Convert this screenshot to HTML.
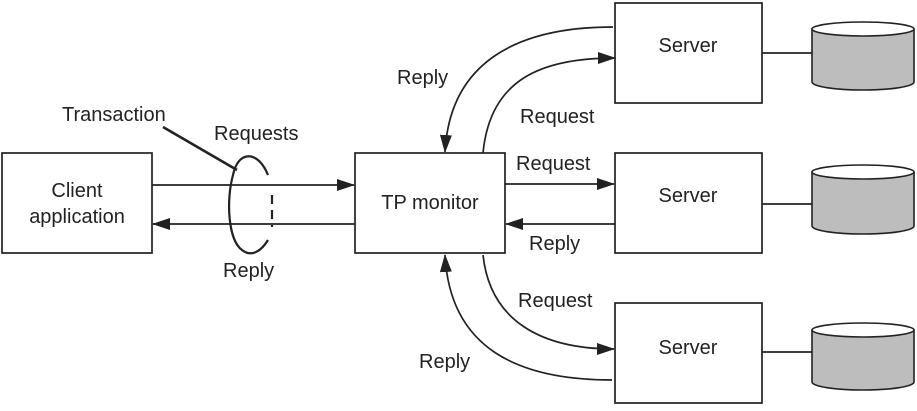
<!DOCTYPE html><html><head><style>body{margin:0;background:#fff}</style></head><body>
<svg width="917" height="406" viewBox="0 0 917 406" xmlns="http://www.w3.org/2000/svg" font-family="Liberation Sans, sans-serif" font-size="20" fill="#222">
<defs><marker id="a" markerWidth="18" markerHeight="12" refX="17" refY="6" orient="auto" markerUnits="userSpaceOnUse"><path d="M0,0L18,6L0,12Z" fill="#222"/></marker></defs>
<g fill="none" stroke="#222" stroke-width="1.7">
<rect x="2" y="153" width="150" height="100"/>
<rect x="355" y="153" width="150" height="100"/>
<rect x="615" y="3" width="147" height="100"/>
<rect x="615" y="153" width="147" height="100"/>
<rect x="615" y="303" width="147" height="100"/>
<line x1="152" y1="185" x2="354" y2="185" marker-end="url(#a)"/>
<line x1="355" y1="224" x2="153" y2="224" marker-end="url(#a)"/>
<line x1="505" y1="184" x2="614" y2="184" marker-end="url(#a)"/>
<line x1="615" y1="224" x2="506" y2="224" marker-end="url(#a)"/>
<path d="M613,27 C520,27 450,60 445,152" marker-end="url(#a)"/>
<path d="M483,153 C490,80 540,58 615,58" marker-end="url(#a)"/>
<path d="M483,255 C490,320 540,349 614,349" marker-end="url(#a)"/>
<path d="M612,380 C520,380 450,350 445,255" marker-end="url(#a)"/>
<path d="M268,175 C258,150 238,150 233,175 C226,200 228,240 242,250 C252,258 262,250 268,240" stroke-width="2.2"/>
<path d="M272,195 L272,227" stroke-width="2.2" stroke-dasharray="9,6"/>
<line x1="163" y1="127" x2="237" y2="170" stroke-width="2.6"/>
<line x1="762" y1="53" x2="812" y2="53"/>
<line x1="762" y1="204" x2="812" y2="204"/>
<line x1="762" y1="352" x2="812" y2="352"/>
</g>
<g stroke="#222" stroke-width="1.6">
<path d="M812,29 L812,82 A51,8 0 0 0 914,82 L914,29 Z" fill="#bdbdbd"/><ellipse cx="863" cy="29" rx="51" ry="7" fill="#fff"/>
<path d="M812,172 L812,226 A51,8 0 0 0 914,226 L914,172 Z" fill="#bdbdbd"/><ellipse cx="863" cy="172" rx="51" ry="7" fill="#fff"/>
<path d="M812,330 L812,382 A51,8 0 0 0 914,382 L914,330 Z" fill="#bdbdbd"/><ellipse cx="863" cy="330" rx="51" ry="7" fill="#fff"/>
</g>
<g text-anchor="middle">
<text x="77" y="197">Client</text><text x="77" y="223">application</text>
<text x="430" y="209">TP monitor</text>
<text x="688" y="52">Server</text><text x="688" y="202">Server</text><text x="688" y="354">Server</text>
</g>
<text x="62" y="121">Transaction</text>
<text x="214" y="140">Requests</text>
<text x="223" y="277">Reply</text>
<text x="397" y="84">Reply</text>
<text x="520" y="123">Request</text>
<text x="516" y="170">Request</text>
<text x="529" y="250">Reply</text>
<text x="518" y="307">Request</text>
<text x="419" y="368">Reply</text>
</svg></body></html>
